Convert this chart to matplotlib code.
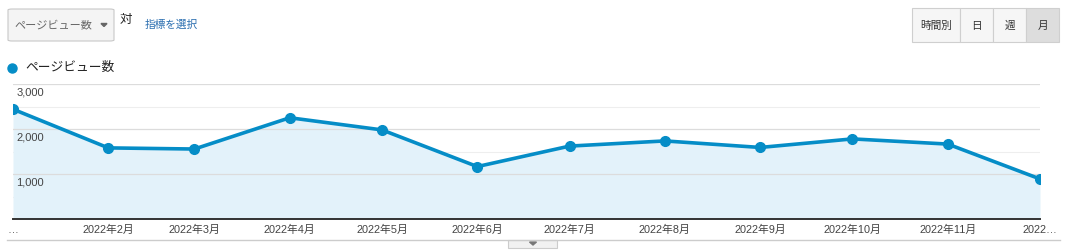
import matplotlib
matplotlib.use("Agg")
import matplotlib.pyplot as plt
from matplotlib.patches import FancyBboxPatch, Rectangle, Polygon
from matplotlib.lines import Line2D
from datetime import date

plt.rcParams['font.family'] = ['Liberation Sans', 'Noto Sans CJK JP', 'DejaVu Sans']

# データ (月ごとのページビュー数)
month_starts = [date(2022, m, 1) for m in range(1, 13)]
months = ["…", "2022年2月", "2022年3月", "2022年4月", "2022年5月", "2022年6月",
          "2022年7月", "2022年8月", "2022年9月", "2022年10月", "2022年11月", "2022…"]
pageviews = [2440, 1580, 1555, 2250, 1980, 1165, 1620, 1735, 1590, 1780, 1665, 890]
y_major = [1000, 2000, 3000]
y_minor = [500, 1500, 2500]
y_labels = ["1,000", "2,000", "3,000"]
buttons = ["時間別", "日", "週", "月"]

W, H = 1071, 250
fig = plt.figure(figsize=(W / 100, H / 100), dpi=100)

def fx(x):
    return x / W

def fy(y):
    return 1 - y / H

blue = "#058dc7"

# グラフ領域
ax = fig.add_axes([fx(13), fy(219), fx(1040) - fx(13), fy(84) - fy(219)])
x = month_starts
ax.fill_between(x, pageviews, 0, color="#e3f2fa", lw=0, zorder=1)
ax.plot(x, pageviews, color=blue, lw=2.6, marker="o", ms=7, zorder=3,
        solid_joinstyle="round")
ax.set_xlim(month_starts[0], month_starts[-1])
ax.set_ylim(0, 3000)
for v in y_minor:
    ax.axhline(v, color="#eeeeee", lw=0.8, zorder=0.5)
for v in y_major:
    ax.axhline(v, color="#dcdcdc", lw=0.9, zorder=2)
for v, lab in zip(y_major, y_labels):
    ax.annotate(lab, (0, v), xycoords=("axes fraction", "data"),
                xytext=(2.5, -2.5), textcoords="offset points",
                ha="left", va="top", fontsize=8, color="#444444", zorder=4)
ax.set_yticks([])
ax.set_xticks(x)
ax.set_xticklabels(months, fontsize=7.8, color="#444444")
ax.tick_params(axis="x", length=0, pad=4)
for s in ["top", "left", "right"]:
    ax.spines[s].set_visible(False)
ax.spines["bottom"].set_color("#333333")
ax.spines["bottom"].set_linewidth(1.4)
ax.set_facecolor("none")

# 下部の線とタブ
fig.add_artist(Line2D([fx(7), fx(1060)], [fy(240), fy(240)], color="#cccccc", lw=1))
fig.add_artist(Rectangle((fx(508), fy(248)), fx(49), fy(240) - fy(248),
                         facecolor="#f1f1f1", edgecolor="#cccccc", lw=0.8))
fig.add_artist(Polygon([[fx(529.5), fy(242)], [fx(536.5), fy(242)], [fx(533), fy(245)]],
                       closed=True, color="#777777"))

# 凡例
fig.add_artist(Line2D([fx(12)], [fy(68)], marker="o", ms=6.5, color=blue, lw=0))
fig.text(fx(25), fy(68), "ページビュー数", fontsize=9.2, color="#222222", va="center")

# ドロップダウン
fig.add_artist(FancyBboxPatch((fx(8), fy(41)), fx(106), fy(9) - fy(41),
                              boxstyle="round,pad=0,rounding_size=0.004",
                              facecolor="#f4f4f4", edgecolor="#c8c8c8", lw=0.8))
fig.text(fx(14), fy(25.5), "ページビュー数", fontsize=8, color="#666666", va="center")
fig.add_artist(Polygon([[fx(101), fy(23.5)], [fx(107), fy(23.5)], [fx(104), fy(26.5)]],
                       closed=True, color="#666666"))
fig.text(fx(120), fy(20), "対", fontsize=9, color="#222222", va="center")
fig.text(fx(145), fy(25), "指標を選択", fontsize=7.7, color="#2a6eb0", va="center")

# 期間ボタン
edges = [912, 960, 993, 1026, 1059]
for i, lab in enumerate(buttons):
    x0, x1 = edges[i], edges[i + 1]
    fc = "#dddddd" if lab == "月" else "#f6f6f6"
    fig.add_artist(Rectangle((fx(x0), fy(42)), fx(x1 - x0), fy(8) - fy(42),
                             facecolor=fc, edgecolor="#cfcfcf", lw=0.8))
    fig.text(fx((x0 + x1) / 2), fy(25.5), lab, fontsize=7.7, color="#333333",
             ha="center", va="center")

fig.savefig("out.png", dpi=100, facecolor="white")
